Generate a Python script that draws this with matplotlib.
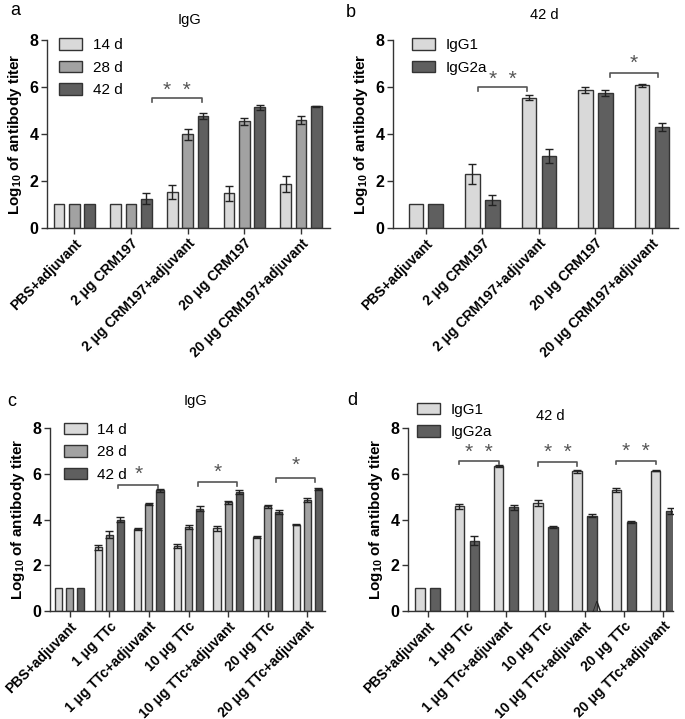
import matplotlib
matplotlib.use('Agg')
import matplotlib.pyplot as plt
import numpy as np

plt.rcParams['font.family'] = ['Liberation Sans', 'DejaVu Sans']
plt.rcParams['mathtext.fontset'] = 'custom'
plt.rcParams['mathtext.rm'] = 'Liberation Sans'
plt.rcParams['mathtext.bf'] = 'Liberation Sans:bold'

# ---- data ----
crm_groups = ['PBS+adjuvant', '2 μg CRM197', '2 μg CRM197+adjuvant',
              '20 μg CRM197', '20 μg CRM197+adjuvant']
ttc_groups = ['PBS+adjuvant', '1 μg TTc', '1 μg TTc+adjuvant', '10 μg TTc',
              '10 μg TTc+adjuvant', '20 μg TTc', '20 μg TTc+adjuvant']

# panel a: IgG, CRM197
a_14d = [1.0, 1.0, 1.53, 1.47, 1.87]
a_14d_err = [0, 0, 0.28, 0.33, 0.33]
a_28d = [1.0, 1.0, 3.99, 4.55, 4.60]
a_28d_err = [0, 0, 0.23, 0.15, 0.16]
a_42d = [1.0, 1.25, 4.75, 5.13, 5.17]
a_42d_err = [0, 0.23, 0.13, 0.09, 0.04]

# panel b: 42 d, CRM197
b_igg1 = [1.0, 2.29, 5.55, 5.87, 6.07]
b_igg1_err = [0, 0.42, 0.1, 0.12, 0.07]
b_igg2a = [1.0, 1.2, 3.05, 5.76, 4.29]
b_igg2a_err = [0, 0.22, 0.3, 0.13, 0.18]

# panel c: IgG, TTc
c_14d = [1.0, 2.78, 3.58, 2.84, 3.61, 3.22, 3.78]
c_14d_err = [0, 0.1, 0.05, 0.08, 0.1, 0.05, 0.04]
c_28d = [1.0, 3.34, 4.69, 3.66, 4.75, 4.57, 4.84]
c_28d_err = [0, 0.14, 0.04, 0.08, 0.05, 0.08, 0.08]
c_42d = [1.0, 3.99, 5.27, 4.48, 5.21, 4.33, 5.33]
c_42d_err = [0, 0.12, 0.08, 0.1, 0.08, 0.07, 0.05]

# panel d: 42 d, TTc
d_igg1 = [1.0, 4.58, 6.33, 4.73, 6.10, 5.29, 6.14]
d_igg1_err = [0, 0.1, 0.04, 0.14, 0.07, 0.09, 0.03]
d_igg2a = [1.0, 3.07, 4.53, 3.66, 4.16, 3.90, 4.37]
d_igg2a_err = [0, 0.2, 0.1, 0.05, 0.07, 0.05, 0.12]

light = '#d9d9d9'
mid = '#a2a2a2'
dark = '#5f5f5f'
edge = '#333333'
brk = '#555555'

fig = plt.figure(figsize=(6.85, 7.19), dpi=100)

def setup(ax, groups, xlim):
    ax.set_xlim(*xlim)
    ax.set_ylim(0, 8)
    ax.set_yticks([0, 2, 4, 6, 8])
    ax.set_xticks(np.arange(len(groups)))
    ax.set_xticklabels(groups, rotation=45, ha='right', rotation_mode='anchor',
                       fontsize=10, fontweight='bold')
    for t in ax.get_yticklabels():
        t.set_fontweight('bold')
        t.set_fontsize(11.5)
    for s in ['top', 'right']:
        ax.spines[s].set_visible(False)
    for s in ['left', 'bottom']:
        ax.spines[s].set_color(edge)
        ax.spines[s].set_linewidth(1)
    ax.tick_params(colors=edge, length=4, width=1, pad=2)
    ax.tick_params(labelcolor='black')
    ax.set_ylabel(r'Log$_{\mathbf{10}}$ of antibody titer', fontsize=11,
                  fontweight='bold', labelpad=4)

def bars(ax, series, errs, colors, labels, width, offsets):
    x = np.arange(len(series[0]))
    for vals, err, col, lab, off in zip(series, errs, colors, labels, offsets):
        ax.bar(x + off, vals, width, color=col, edgecolor=edge, linewidth=1, label=lab,
               zorder=2)
        e = np.array(err)
        m = e > 0
        ax.errorbar((x + off)[m], np.array(vals)[m], yerr=e[m], fmt='none',
                    ecolor='#222222', elinewidth=1, capsize=2.8, capthick=1, zorder=3)

def bracket(ax, x1, x2, y, text, ty, tip=0.17, fs=15):
    ax.plot([x1, x1, x2, x2], [y - tip, y, y, y - tip], color=brk, lw=1.2,
            clip_on=False)
    ax.text((x1 + x2) / 2, ty, text, ha='center', va='center', fontsize=fs,
            color=brk, clip_on=False)

def legend(ax, x, y):
    ax.legend(loc='upper left', bbox_to_anchor=(x, y), bbox_transform=fig.transFigure,
              frameon=False, fontsize=11, handlelength=1.5, handleheight=0.78,
              handletextpad=0.7, labelspacing=0.55, borderaxespad=0, borderpad=0)

# panel a
axa = fig.add_axes([0.0686, 0.6829, 0.4132, 0.2615])
bars(axa, [a_14d, a_28d, a_42d], [a_14d_err, a_28d_err, a_42d_err],
     [light, mid, dark], ['14 d', '28 d', '42 d'], 0.19, [-0.27, 0, 0.27])
setup(axa, crm_groups, (-0.48, 4.51))
legend(axa, 0.086, 0.947)
bracket(axa, 1.37, 2.26, 5.55, '*  *', 5.85)

# panel b
axb = fig.add_axes([0.5737, 0.6829, 0.4161, 0.2615])
bars(axb, [b_igg1, b_igg2a], [b_igg1_err, b_igg2a_err],
     [light, dark], ['IgG1', 'IgG2a'], 0.256, [-0.176, 0.176])
setup(axb, crm_groups, (-0.58, 4.46))
legend(axb, 0.601, 0.947)
bracket(axb, 0.93, 1.79, 5.99, '*  *', 6.33)
bracket(axb, 3.25, 4.1, 6.59, '*', 7.0)

# panel c
axc = fig.add_axes([0.073, 0.1502, 0.4015, 0.2545])
bars(axc, [c_14d, c_28d, c_42d], [c_14d_err, c_28d_err, c_42d_err],
     [light, mid, dark], ['14 d', '28 d', '42 d'], 0.18, [-0.28, 0, 0.28])
setup(axc, ttc_groups, (-0.5, 6.45))
legend(axc, 0.093, 0.412)
bracket(axc, 1.23, 2.23, 5.53, '*', 5.98)
bracket(axc, 3.23, 4.23, 5.63, '*', 6.05)
bracket(axc, 5.2, 6.2, 5.81, '*', 6.38)

# panel d
axd = fig.add_axes([0.5956, 0.1502, 0.3869, 0.2545])
bars(axd, [d_igg1, d_igg2a], [d_igg1_err, d_igg2a_err],
     [light, dark], ['IgG1', 'IgG2a'], 0.24, [-0.19, 0.19])
setup(axd, ttc_groups, (-0.5, 6.25))
legend(axd, 0.609, 0.44)
bracket(axd, 0.81, 1.81, 6.58, '*  *', 6.95)
bracket(axd, 2.81, 3.81, 6.5, '*  *', 6.93)
bracket(axd, 4.81, 5.81, 6.58, '*  *', 6.97)
axd.text(4.28, 0.15, 'Λ', fontsize=10, family='DejaVu Serif', ha='center',
         va='center', color='#222222')

# titles and panel letters
fig.text(0.015, 0.986, 'a', fontsize=13, va='center')
fig.text(0.277, 0.972, 'IgG', fontsize=10.5, ha='center', va='center')
fig.text(0.505, 0.983, 'b', fontsize=13, va='center')
fig.text(0.795, 0.979, '42 d', fontsize=10.5, ha='center', va='center')
fig.text(0.01, 0.442, 'c', fontsize=13, va='center')
fig.text(0.285, 0.442, 'IgG', fontsize=10.5, ha='center', va='center')
fig.text(0.507, 0.443, 'd', fontsize=13, va='center')
fig.text(0.803, 0.422, '42 d', fontsize=10.5, ha='center', va='center')

fig.savefig('out.png', dpi=100)
